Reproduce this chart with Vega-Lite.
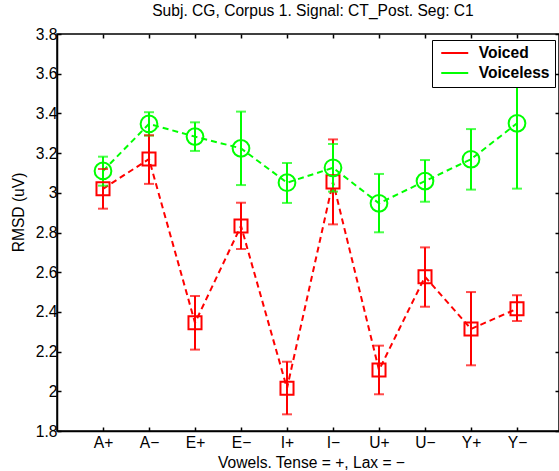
{
  "$schema": "https://vega.github.io/schema/vega-lite/v6.json",
  "width": 502,
  "height": 397,
  "autosize": {"type": "none"},
  "padding": {"left": 57, "top": 34, "right": 0, "bottom": 40},
  "background": "white",
  "title": {
    "text": "Subj. CG, Corpus 1. Signal: CT_Post. Seg: C1",
    "font": "Liberation Sans",
    "fontSize": 15.6,
    "fontWeight": "normal",
    "color": "black",
    "anchor": "middle",
    "baseline": "alphabetic",
    "offset": -5,
    "dx": 5
  },
  "config": {
    "view": {"stroke": "black", "strokeWidth": 1.5},
    "axis": {
      "grid": false,
      "domainColor": "black",
      "domainWidth": 1.5,
      "tickColor": "black",
      "tickWidth": 1.5,
      "tickSize": -4,
      "labelFont": "Liberation Sans",
      "labelFontSize": 15.6,
      "labelColor": "black",
      "titleFont": "Liberation Sans",
      "titleFontSize": 15.6,
      "titleFontWeight": "normal",
      "titleColor": "black"
    }
  },
  "data": {
    "values": [
      {"idx": 1, "group": "Voiced", "mean": 3.02, "lo": 2.92, "hi": 3.12},
      {"idx": 2, "group": "Voiced", "mean": 3.17, "lo": 3.045, "hi": 3.29},
      {"idx": 3, "group": "Voiced", "mean": 2.345, "lo": 2.21, "hi": 2.48},
      {"idx": 4, "group": "Voiced", "mean": 2.833, "lo": 2.717, "hi": 2.95},
      {"idx": 5, "group": "Voiced", "mean": 2.015, "lo": 1.884, "hi": 2.149},
      {"idx": 6, "group": "Voiced", "mean": 3.055, "lo": 2.841, "hi": 3.269},
      {"idx": 7, "group": "Voiced", "mean": 2.107, "lo": 1.985, "hi": 2.23},
      {"idx": 8, "group": "Voiced", "mean": 2.577, "lo": 2.426, "hi": 2.725},
      {"idx": 9, "group": "Voiced", "mean": 2.314, "lo": 2.131, "hi": 2.5},
      {"idx": 10, "group": "Voiced", "mean": 2.416, "lo": 2.354, "hi": 2.484},
      {"idx": 1, "group": "Voiceless", "mean": 3.11, "lo": 3.036, "hi": 3.182},
      {"idx": 2, "group": "Voiceless", "mean": 3.347, "lo": 3.288, "hi": 3.406},
      {"idx": 3, "group": "Voiceless", "mean": 3.283, "lo": 3.211, "hi": 3.355},
      {"idx": 4, "group": "Voiceless", "mean": 3.224, "lo": 3.039, "hi": 3.409},
      {"idx": 5, "group": "Voiceless", "mean": 3.051, "lo": 2.949, "hi": 3.15},
      {"idx": 6, "group": "Voiceless", "mean": 3.126, "lo": 3.006, "hi": 3.246},
      {"idx": 7, "group": "Voiceless", "mean": 2.947, "lo": 2.801, "hi": 3.095},
      {"idx": 8, "group": "Voiceless", "mean": 3.059, "lo": 2.955, "hi": 3.165},
      {"idx": 9, "group": "Voiceless", "mean": 3.169, "lo": 3.016, "hi": 3.321},
      {"idx": 10, "group": "Voiceless", "mean": 3.35, "lo": 3.021, "hi": 3.68}
    ]
  },
  "resolve": {"axis": {"x": "independent", "y": "independent"}},
  "layer": [
    {
      "mark": {"type": "line", "strokeDash": [6, 4], "strokeWidth": 2},
      "encoding": {
        "x": {
          "field": "idx", "type": "quantitative",
          "scale": {"domain": [0, 10.913], "nice": false, "zero": false},
          "axis": {
            "values": [1, 2, 3, 4, 5, 6, 7, 8, 9, 10],
            "labelExpr": "['','A+','A−','E+','E−','I+','I−','U+','U−','Y+','Y−'][datum.value]",
            "labelPadding": 8,
            "title": "Vowels. Tense = +, Lax = −",
            "titleX": 254,
            "titleY": 36,
            "titleBaseline": "alphabetic",
            "titleAlign": "center"
          }
        },
        "y": {
          "field": "mean", "type": "quantitative",
          "scale": {"domain": [1.8, 3.8], "nice": false, "zero": false},
          "axis": {
            "values": [1.8, 2, 2.2, 2.4, 2.6, 2.8, 3, 3.2, 3.4, 3.6, 3.8],
            "format": "~g",
            "labelPadding": 4,
            "title": "RMSD (uV)",
            "titleX": -34,
            "titleY": 178,
            "titleBaseline": "alphabetic",
            "titleAlign": "center",
            "titleAngle": -90
          }
        },
        "color": {
          "field": "group", "type": "nominal",
          "scale": {"domain": ["Voiced", "Voiceless"], "range": ["#ff0000", "#00ff00"]},
          "legend": {
            "title": null,
            "orient": "none",
            "legendX": 375,
            "legendY": 6,
            "symbolType": "M-2,0H2",
            "symbolSize": 182,
            "symbolStrokeWidth": 2,
            "symbolDash": [1, 0],
            "symbolOffset": 9.75,
            "labelOffset": 16,
            "labelFont": "Liberation Sans",
            "labelFontSize": 15.6,
            "labelFontWeight": "bold",
            "labelColor": "black",
            "strokeColor": "black",
            "fillColor": "white",
            "padding": 5,
            "rowPadding": 3,
            "cornerRadius": 0
          }
        }
      }
    },
    {
      "mark": {"type": "rule", "strokeWidth": 2},
      "encoding": {
        "x": {"field": "idx", "type": "quantitative", "axis": null},
        "y": {"field": "lo", "type": "quantitative", "axis": null},
        "y2": {"field": "hi"},
        "color": {"field": "group", "type": "nominal", "legend": null}
      }
    },
    {
      "mark": {"type": "tick", "orient": "horizontal", "size": 10, "thickness": 2},
      "encoding": {
        "x": {"field": "idx", "type": "quantitative", "axis": null},
        "y": {"field": "lo", "type": "quantitative", "axis": null},
        "color": {"field": "group", "type": "nominal", "legend": null}
      }
    },
    {
      "mark": {"type": "tick", "orient": "horizontal", "size": 10, "thickness": 2},
      "encoding": {
        "x": {"field": "idx", "type": "quantitative", "axis": null},
        "y": {"field": "hi", "type": "quantitative", "axis": null},
        "color": {"field": "group", "type": "nominal", "legend": null}
      }
    },
    {
      "transform": [{"filter": "datum.group === 'Voiced'"}],
      "mark": {"type": "point", "shape": "square", "filled": false, "size": 170, "strokeWidth": 2, "opacity": 1},
      "encoding": {
        "x": {"field": "idx", "type": "quantitative", "axis": null},
        "y": {"field": "mean", "type": "quantitative", "axis": null},
        "color": {"field": "group", "type": "nominal", "legend": null}
      }
    },
    {
      "transform": [{"filter": "datum.group === 'Voiceless'"}],
      "mark": {"type": "point", "shape": "circle", "filled": false, "size": 280, "strokeWidth": 2, "opacity": 1},
      "encoding": {
        "x": {"field": "idx", "type": "quantitative", "axis": null},
        "y": {"field": "mean", "type": "quantitative", "axis": null},
        "color": {"field": "group", "type": "nominal", "legend": null}
      }
    },
    {
      "mark": {"type": "point", "opacity": 0},
      "encoding": {
        "x": {
          "field": "idx", "type": "quantitative",
          "axis": {"orient": "top", "values": [1, 2, 3, 4, 5, 6, 7, 8, 9, 10], "labels": false, "title": null, "domain": false}
        },
        "y": {
          "field": "mean", "type": "quantitative",
          "axis": {"orient": "right", "values": [1.8, 2, 2.2, 2.4, 2.6, 2.8, 3, 3.2, 3.4, 3.6, 3.8], "labels": false, "title": null, "domain": false}
        }
      }
    }
  ]
}
